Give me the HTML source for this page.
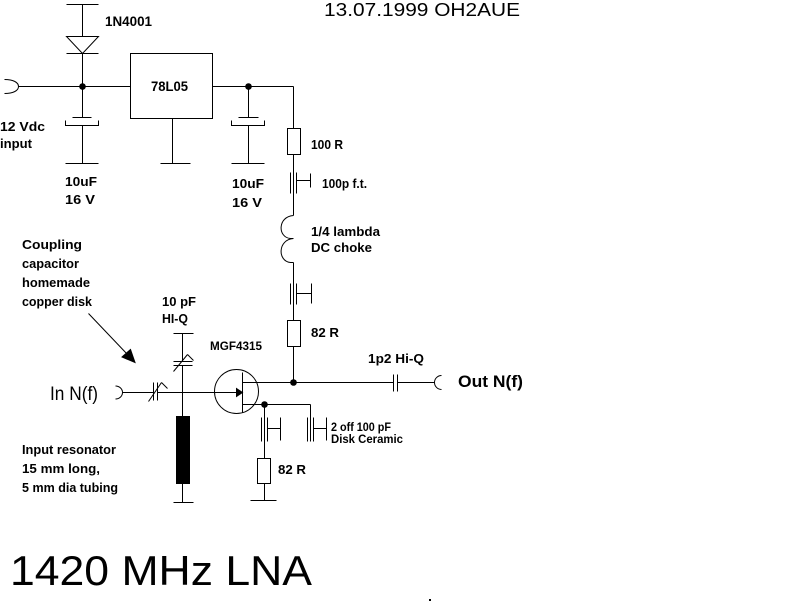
<!DOCTYPE html>
<html>
<head>
<meta charset="utf-8">
<style>
html,body{margin:0;padding:0;background:#fff;}
body{width:801px;height:601px;overflow:hidden;}
svg{display:block;}
text{font-family:"Liberation Sans",Arial,sans-serif;fill:#000;}
.b{font-weight:bold;font-size:13px;}
</style>
</head>
<body>
<svg width="801" height="601" viewBox="0 0 801 601" xmlns="http://www.w3.org/2000/svg">
<rect x="0" y="0" width="801" height="601" fill="#fff"/>
<g transform="translate(0.5,0.5)" stroke="#000" stroke-width="1" fill="none">
  <!-- Diode 1N4001 -->
  <line x1="66" y1="4" x2="98" y2="4"/>
  <line x1="82" y1="4" x2="82" y2="36"/>
  <polygon points="66,36 98,36 82,53" fill="#fff" stroke="#000"/>
  <line x1="66" y1="53" x2="98" y2="53"/>
  <line x1="82" y1="53" x2="82" y2="117"/>
  <!-- DC input connector -->
  <path d="M4 79 C13 79 18 82 18 86 C18 90 13 93 4 93"/>
  <line x1="18" y1="86" x2="130" y2="86"/>
  <!-- 78L05 box -->
  <rect x="130" y="53" width="82" height="65"/>
  <line x1="212" y1="86" x2="293" y2="86"/>
  <line x1="293" y1="86" x2="293" y2="128"/>
  <!-- left electrolytic -->
  <line x1="72" y1="117" x2="91" y2="117"/>
  <path d="M65 120 L65 125 L98 125 L98 120"/>
  <line x1="82" y1="125" x2="82" y2="163"/>
  <line x1="65" y1="163" x2="98" y2="163"/>
  <!-- right electrolytic -->
  <line x1="248" y1="86" x2="248" y2="117"/>
  <line x1="238" y1="117" x2="258" y2="117"/>
  <path d="M231 120 L231 125 L264 125 L264 120"/>
  <line x1="248" y1="125" x2="248" y2="163"/>
  <line x1="231" y1="163" x2="264" y2="163"/>
  <!-- regulator ground -->
  <line x1="172" y1="118" x2="172" y2="163"/>
  <line x1="160" y1="163" x2="190" y2="163"/>
  <!-- 100R -->
  <rect x="287" y="128" width="13" height="26"/>
  <line x1="293" y1="154" x2="293" y2="215"/>
  <!-- 100p f.t. -->
  <line x1="290" y1="172" x2="290" y2="193"/>
  <line x1="296" y1="172" x2="296" y2="193"/>
  <line x1="296" y1="180" x2="310" y2="180"/>
  <line x1="310" y1="173" x2="310" y2="187"/>
  <!-- choke -->
  <path d="M293 215 C277 216 277 237 290 238 L293 238 C277 239 277 261 290 262 L293 262"/>
  <line x1="293" y1="262" x2="293" y2="320"/>
  <!-- cap 2 -->
  <line x1="290" y1="283" x2="290" y2="304"/>
  <line x1="296" y1="283" x2="296" y2="304"/>
  <line x1="296" y1="293" x2="311" y2="293"/>
  <line x1="311" y1="283" x2="311" y2="303"/>
  <!-- 82R top -->
  <rect x="287" y="320" width="13" height="26"/>
  <line x1="293" y1="346" x2="293" y2="382"/>
  <!-- input connector -->
  <path d="M115 385.5 A7 6.5 0 0 1 115 398.5"/>
  <line x1="122" y1="392" x2="153" y2="392"/>
  <line x1="157" y1="392" x2="236" y2="392"/>
  <!-- series variable cap -->
  <line x1="153" y1="382" x2="153" y2="400"/>
  <line x1="157" y1="382" x2="157" y2="400"/>
  <line x1="148" y1="401" x2="161" y2="382"/>
  <line x1="161" y1="382" x2="167" y2="388"/>
  <!-- vertical variable cap & resonator -->
  <line x1="173" y1="333" x2="193" y2="333"/>
  <line x1="182" y1="333" x2="182" y2="361"/>
  <line x1="173" y1="361" x2="192" y2="361"/>
  <line x1="173" y1="365" x2="192" y2="365"/>
  <line x1="182" y1="365" x2="182" y2="416"/>
  <line x1="173" y1="371" x2="187" y2="354"/>
  <line x1="187" y1="354" x2="193" y2="360"/>
  <rect x="176" y="416" width="13" height="67" fill="#000"/>
  <line x1="182" y1="483" x2="182" y2="502"/>
  <line x1="173" y1="502" x2="193" y2="502"/>
  <!-- coupling arrow -->
  <line x1="88" y1="313" x2="128" y2="355"/>
  <polygon points="121.5,356.5 130,349 134.5,362" fill="#000"/>
  <!-- transistor -->
  <circle cx="236" cy="391" r="22"/>
  <polygon points="236,388 236,396 242,392" fill="#000"/>
  <line x1="242" y1="372" x2="242" y2="412"/>
  <line x1="242" y1="382" x2="393" y2="382"/>
  <line x1="242" y1="404" x2="310" y2="404"/>
  <!-- output cap & connector -->
  <line x1="393" y1="374" x2="393" y2="391"/>
  <line x1="397" y1="374" x2="397" y2="391"/>
  <line x1="397" y1="382" x2="434" y2="382"/>
  <path d="M441 375 A7 7 0 0 0 441 389"/>
  <!-- source right cap -->
  <line x1="310" y1="404" x2="310" y2="441"/>
  <line x1="307" y1="417" x2="307" y2="441"/>
  <line x1="313" y1="417" x2="313" y2="441"/>
  <line x1="313" y1="428" x2="326" y2="428"/>
  <line x1="326" y1="417" x2="326" y2="440"/>
  <!-- source left cap + resistor -->
  <line x1="264" y1="404" x2="264" y2="458"/>
  <line x1="261" y1="417" x2="261" y2="441"/>
  <line x1="267" y1="417" x2="267" y2="441"/>
  <line x1="267" y1="428" x2="280" y2="428"/>
  <line x1="280" y1="417" x2="280" y2="440"/>
  <rect x="257" y="458" width="13" height="25"/>
  <line x1="264" y1="483" x2="264" y2="500"/>
  <line x1="250" y1="500" x2="276" y2="500"/>
</g>
<g fill="#000">
  <circle cx="82.5" cy="86.5" r="3.3"/>
  <circle cx="248.5" cy="86.5" r="3.3"/>
  <circle cx="293.5" cy="382.5" r="3.3"/>
  <circle cx="264.5" cy="404.5" r="3.3"/>
  <rect x="429" y="599" width="2" height="2"/>
</g>
<g>
  <text x="324" y="16" font-size="18" textLength="196" lengthAdjust="spacingAndGlyphs">13.07.1999 OH2AUE</text>
  <text class="b" x="105" y="26" style="font-size:14px" textLength="47" lengthAdjust="spacingAndGlyphs">1N4001</text>
  <text class="b" x="151" y="91" style="font-size:14px" textLength="37" lengthAdjust="spacingAndGlyphs">78L05</text>
  <text class="b" x="0" y="131" textLength="45" lengthAdjust="spacingAndGlyphs">12 Vdc</text>
  <text class="b" x="0" y="148" textLength="32" lengthAdjust="spacingAndGlyphs">input</text>
  <text class="b" x="65" y="186" textLength="32" lengthAdjust="spacingAndGlyphs">10uF</text>
  <text class="b" x="65" y="204" textLength="30" lengthAdjust="spacingAndGlyphs">16 V</text>
  <text class="b" x="232" y="188" textLength="32" lengthAdjust="spacingAndGlyphs">10uF</text>
  <text class="b" x="232" y="207" textLength="30" lengthAdjust="spacingAndGlyphs">16 V</text>
  <text class="b" x="311" y="149" textLength="32" lengthAdjust="spacingAndGlyphs">100 R</text>
  <text class="b" x="322" y="188" textLength="45" lengthAdjust="spacingAndGlyphs">100p f.t.</text>
  <text class="b" x="311" y="236" textLength="69" lengthAdjust="spacingAndGlyphs">1/4 lambda</text>
  <text class="b" x="311" y="252" textLength="61" lengthAdjust="spacingAndGlyphs">DC choke</text>
  <text class="b" x="22" y="249" textLength="60" lengthAdjust="spacingAndGlyphs">Coupling</text>
  <text class="b" x="22" y="268" textLength="57" lengthAdjust="spacingAndGlyphs">capacitor</text>
  <text class="b" x="22" y="287" textLength="68" lengthAdjust="spacingAndGlyphs">homemade</text>
  <text class="b" x="22" y="306" textLength="70" lengthAdjust="spacingAndGlyphs">copper disk</text>
  <text class="b" x="162" y="306" textLength="34" lengthAdjust="spacingAndGlyphs">10 pF</text>
  <text class="b" x="162" y="323" textLength="26" lengthAdjust="spacingAndGlyphs">HI-Q</text>
  <text class="b" x="210" y="350" style="font-size:12px" textLength="52" lengthAdjust="spacingAndGlyphs">MGF4315</text>
  <text class="b" x="311" y="337" textLength="28" lengthAdjust="spacingAndGlyphs">82 R</text>
  <text class="b" x="368" y="363" textLength="56" lengthAdjust="spacingAndGlyphs">1p2 Hi-Q</text>
  <text class="b" x="331" y="431" style="font-size:12px" textLength="60" lengthAdjust="spacingAndGlyphs">2 off 100 pF</text>
  <text class="b" x="331" y="443" style="font-size:12px" textLength="72" lengthAdjust="spacingAndGlyphs">Disk Ceramic</text>
  <text class="b" x="278" y="474" textLength="28" lengthAdjust="spacingAndGlyphs">82 R</text>
  <text class="b" x="22" y="454" textLength="94" lengthAdjust="spacingAndGlyphs">Input resonator</text>
  <text class="b" x="22" y="473" textLength="78" lengthAdjust="spacingAndGlyphs">15 mm long,</text>
  <text class="b" x="22" y="492" textLength="96" lengthAdjust="spacingAndGlyphs">5 mm dia tubing</text>
  <text x="50" y="400" font-size="19" textLength="48" lengthAdjust="spacingAndGlyphs">In N(f)</text>
  <text x="458" y="387" font-size="17" font-weight="bold" textLength="65" lengthAdjust="spacingAndGlyphs">Out N(f)</text>
  <text x="10" y="585" font-size="42" textLength="302" lengthAdjust="spacingAndGlyphs">1420 MHz LNA</text>
</g>
</svg>
</body>
</html>
